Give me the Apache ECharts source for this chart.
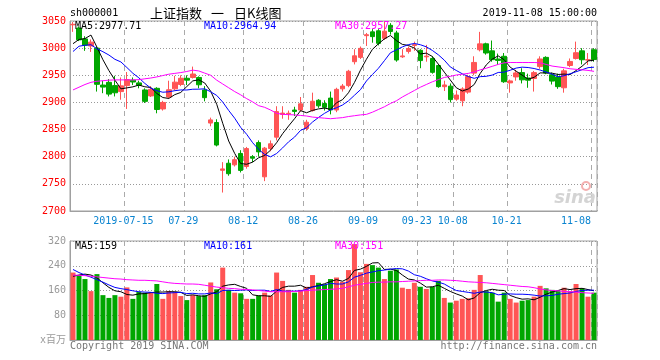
<!DOCTYPE html>
<html><head><meta charset="utf-8">
<script src="https://cdn.jsdelivr.net/npm/echarts@6/dist/echarts.min.js"></script>
<style>html,body{margin:0;padding:0;background:#fff}#c{width:660px;height:360px}</style>
</head><body><div id="c"></div>
<script>
const dates = [
'2019-07-02','2019-07-03','2019-07-04','2019-07-05','2019-07-08','2019-07-09','2019-07-10','2019-07-11','2019-07-12','2019-07-15',
'2019-07-16','2019-07-17','2019-07-18','2019-07-19','2019-07-22','2019-07-23','2019-07-24','2019-07-25','2019-07-26','2019-07-29',
'2019-07-30','2019-07-31','2019-08-01','2019-08-02','2019-08-05','2019-08-06','2019-08-07','2019-08-08','2019-08-09','2019-08-12',
'2019-08-13','2019-08-14','2019-08-15','2019-08-16','2019-08-19','2019-08-20','2019-08-21','2019-08-22','2019-08-23','2019-08-26',
'2019-08-27','2019-08-28','2019-08-29','2019-08-30','2019-09-02','2019-09-03','2019-09-04','2019-09-05','2019-09-06','2019-09-09',
'2019-09-10','2019-09-11','2019-09-12','2019-09-16','2019-09-17','2019-09-18','2019-09-19','2019-09-20','2019-09-23','2019-09-24',
'2019-09-25','2019-09-26','2019-09-27','2019-09-30','2019-10-08','2019-10-09','2019-10-10','2019-10-11','2019-10-14','2019-10-15',
'2019-10-16','2019-10-17','2019-10-18','2019-10-21','2019-10-22','2019-10-23','2019-10-24','2019-10-25','2019-10-28','2019-10-29',
'2019-10-30','2019-10-31','2019-11-01','2019-11-04','2019-11-05','2019-11-06','2019-11-07','2019-11-08'];

const opens = [3043,3037,3017,3004,3000,2932,2937,2931,2920,2931,
2941,2936,2923,2912,2926,2888,2910,2925,2933,2944.5,
2946,2946,2923,2862,2863,2775,2788,2785,2806,2782,
2800,2826,2763,2815,2836,2878,2879,2886,2886,2852,
2885,2904,2898,2908,2886,2925,2931,2975,2983,3023,
3030,3032,3018,3042,3028,2984,2994,3005,2996,2984,
2981,2968,2929,2930,2906,2903,2919,2954,2997,3008,
2995,2980,2985,2936,2947,2955,2945,2944,2966,2983,
2951,2947,2927,2968,2981,2995,2978,2997];
const closes = [3043.94,3015.26,3005.25,3011.06,2933.36,2928.23,2915.30,2917.76,2930.55,2942.19,
2937.62,2931.69,2901.95,2924.20,2886.97,2899.94,2923.28,2937.36,2944.54,2941.01,
2952.34,2932.51,2908.77,2867.84,2821.50,2777.56,2768.68,2794.55,2774.75,2814.99,
2797.26,2808.91,2815.80,2823.82,2883.10,2880.33,2880.00,2883.44,2897.43,2863.57,
2902.19,2893.76,2890.92,2886.24,2924.11,2930.15,2957.41,2985.86,2999.60,3024.74,
3021.20,3008.81,3031.24,3030.75,2978.12,2985.66,2999.28,3006.45,2977.08,2985.34,
2955.43,2929.09,2932.17,2905.19,2913.57,2924.86,2947.71,2973.66,3007.88,2991.05,
2978.71,2977.33,2938.14,2939.62,2954.38,2941.62,2940.92,2954.93,2980.05,2954.18,
2939.32,2929.06,2958.20,2975.49,2991.56,2978.60,2978.71,2979];
const lows = [3030,3013,2995,2993,2920,2917,2911,2911,2905,2888,
2932,2926,2899,2910,2880,2885,2907,2922,2930,2932,
2944,2926,2902,2856,2819,2734,2765,2782,2771,2778,
2790,2800,2755,2810,2830,2870,2868,2875,2883,2848,
2883,2890,2885,2878,2882,2920,2928,2970,2980,3004,
3010,3005,3015,3025,2975,2982,2990,2995,2963,2975,
2953,2927,2921,2900,2903,2893,2916,2950,2994,2988,
2975,2969,2936,2918,2940,2935,2927,2920,2962,2952,
2933,2925,2918,2965,2979,2970,2969,2975];
const highs = [3048,3040,3022,3016,3002,2940,2943,2949,2946,2956,
2946,2940,2926,2930,2928,2903,2940,2949,2950,2950,
2966,2948,2930,2872,2869,2790,2795,2800,2812,2818,
2803,2830,2818,2830,2893,2893,2885,2892,2910,2868,
2918,2906,2904,2920,2927,2934,2960,2998,3003,3028,
3035,3035,3049,3046,3032,2998,3003,3012,2998,3006,
2985,2970,2940,2935,2922,2928,2951,2985,3030,3010,
3014,2990,2991,2942,2960,2963,2953,2958,2985,2985,
2955,2953,2962,2981,3012,3000,2991,3000];

const ma5 = [3008.2,3016.0,3017.6,3024.1,3001.8,2978.6,2958.6,2941.1,2925.0,2926.8,
2928.7,2932.0,2928.8,2927.5,2916.5,2909.0,2907.3,2914.4,2918.4,2929.2,
2939.7,2941.6,2935.8,2920.5,2896.6,2861.6,2828.9,2806.0,2787.4,2786.1,
2790.0,2798.1,2802.3,2812.2,2825.8,2842.4,2856.6,2870.1,2884.9,2881.0,
2885.3,2888.1,2889.6,2887.3,2899.4,2905.0,2917.8,2936.8,2959.4,2979.6,
2997.8,3008.0,3017.1,3023.3,3014.0,3006.9,3005.0,3000.1,2989.3,2990.8,
2984.7,2970.7,2955.8,2941.4,2927.1,2921.0,2924.7,2933.0,2953.5,2969.0,
2979.8,2985.7,2978.6,2965.0,2957.6,2950.2,2942.9,2946.3,2954.4,2954.3,
2953.9,2951.5,2952.2,2951.3,2958.7,2966.6,2976.5,2977.7];
const ma10 = [2993.8,3003.5,3005.4,3006.3,2998.8,2993.4,2987.3,2979.4,2974.6,2964.3,
2953.7,2945.3,2935.0,2926.3,2921.6,2918.8,2919.6,2921.6,2923.0,2922.9,
2924.3,2924.4,2925.1,2919.5,2912.9,2900.7,2885.2,2870.9,2854.0,2841.3,
2825.8,2813.5,2804.2,2799.8,2805.9,2816.2,2827.4,2836.2,2848.5,2853.4,
2863.9,2872.3,2879.9,2886.1,2890.2,2895.2,2902.9,2913.2,2923.4,2939.5,
2951.4,2962.9,2976.9,2991.4,2996.8,3002.3,3006.5,3008.6,3006.3,3002.4,
2995.8,2987.8,2977.9,2965.4,2958.9,2952.8,2947.7,2944.4,2947.5,2948.1,
2950.4,2955.2,2955.8,2959.3,2963.3,2965.0,2964.3,2962.5,2959.7,2956.0,
2952.0,2947.2,2949.2,2952.8,2956.5,2960.2,2964.0,2964.9];
const ma30 = [2923,2928,2933,2937,2939,2940,2941,2941.5,2941.5,2941.5,
2941.5,2942,2943.5,2945,2947,2949.5,2952,2953.5,2955,2957,
2959.5,2958,2954,2950,2941,2934,2927,2920,2914,2907,
2901,2894,2891,2886,2880,2878,2877.5,2877,2876,2875,
2873,2872,2871,2870,2871,2872,2874,2875.5,2877,2878,
2882,2887,2892,2898,2903,2910,2916,2922,2928,2933,
2938,2942,2946,2948,2950.5,2952,2953.5,2956,2960,2963,
2966.5,2970,2973,2973.5,2973.5,2973.5,2973.5,2973.5,2973,2970,
2967,2965.5,2964,2962,2961,2960,2959,2957.27];

const volumes = [218,210,197,158,213,145,136,145,140,170,
133,156,153,154,181,133,158,156,142,129,
145,142,145,186,164,234,162,153,151,133,
133,144,153,144,218,191,162,153,162,172,
210,185,180,197,202,188,226,310,219,246,
242,234,197,224,228,169,165,185,172,165,
172,191,136,121,127,133,135,162,210,158,
153,124,153,133,121,127,129,140,175,167,
162,158,169,158,181,167,140,153];
const volMa5 = [206,210,213,210,201,185,170,159,156,147,
145,149,150,153,155,155,156,156,154,144,
146,143,141,149,156,174,178,180,173,167,
146,143,143,141,158,170,174,174,177,168,
172,176,182,189,195,190,199,225,229,238,
249,250,228,229,225,210,197,194,184,171,
172,177,167,157,149,142,130,136,153,160,
164,161,160,144,137,132,133,130,138,148,
155,160,166,163,166,167,163,159];
const volMa10 = [228,218,210,203,195,187,178,170,166,163,
159,156,155,154,151,150,152,153,154,150,
151,149,149,152,150,160,161,160,161,162,
160,161,161,157,163,158,158,158,159,163,
171,175,178,183,181,181,188,203,209,216,
220,224,226,229,231,230,223,211,206,198,
191,187,181,170,160,157,154,151,155,155,
153,146,148,149,148,148,147,145,142,143,
144,148,150,152,157,160,161,161];
const volMa30 = [210,209,208,206,204,202,200,198,197,195,
194,193,193,192,191,188,185,183,182,181,
181,180,177,174,171,169,167,166,164,163,
162,160,158,156,156,156,156,157,158,160,
161,162,163,164,165,167,172,177,180,183,
186,187,187,188,188,189,190,191,192,193,
193,194,194,193,192,190,188,187,186,185,
183,181,179,177,175,173,172,169,165,162,
160,159,157,156,155,153,152,151];

const tickDates = ['2019-07-15','2019-07-29','2019-08-12','2019-08-26','2019-09-09','2019-09-23','2019-10-08','2019-10-21','2019-11-08'];
const tickLabels = ['2019-07-15','07-29','08-12','08-26','09-09','09-23','10-08','10-21','11-08'];
const priceAxis = {min: 2700, max: 3050, step: 50};
const volAxis = {min: 0, max: 320, step: 80};

const RED = '#ff5555', GREEN = '#00a600';
const MONO = "'DejaVu Sans Mono', monospace";
const candleData = dates.map((d, i) => [opens[i], closes[i], lows[i], highs[i]]);
const volData = volumes.map((v, i) => ({value: v, itemStyle: {color: closes[i] >= opens[i] ? RED : GREEN}}));
const isTick = (idx, val) => tickDates.indexOf(val) >= 0;

function txt(text, x, y, color, opts) {
  opts = opts || {};
  return {type: 'text', x: x, y: y, z: 100, silent: true,
    style: {text: text, fill: color, font: opts.font || ('10px ' + MONO),
      align: opts.align || 'left', verticalAlign: 'middle',
      textAlign: opts.align || 'left', textVerticalAlign: 'middle'}};
}

const chart = echarts.init(document.getElementById('c'), null, {renderer: 'canvas'});
const lineS = (name, data, color, xi) => ({type: 'line', name: name, data: data, xAxisIndex: xi, yAxisIndex: xi,
  symbol: 'none', smooth: false, silent: true, lineStyle: {color: color, width: 1}, z: 5});
const CJK = "13px 'Noto Sans CJK SC'";

chart.setOption({
  animation: false,
  backgroundColor: '#fff',
  grid: [
    {left: 70, top: 21, width: 527, height: 190, show: true, borderColor: '#a0a0a0', borderWidth: 1, backgroundColor: 'transparent'},
    {left: 70, top: 241, width: 527, height: 99, show: true, borderColor: '#a0a0a0', borderWidth: 1, backgroundColor: 'transparent'}
  ],
  xAxis: [
    {type: 'category', gridIndex: 0, data: dates, boundaryGap: true,
      axisLine: {show: true, lineStyle: {color: '#a0a0a0'}}, axisTick: {show: false},
      axisLabel: {interval: isTick, margin: 5,
        formatter: (val) => { const k = tickDates.indexOf(val); return (k === tickDates.length - 1 ? '{b|' : '{a|') + tickLabels[k] + '}'; },
        rich: {a: {fontFamily: MONO, fontSize: 10, color: '#0a84d0', padding: [0, 7, 0, 0]},
               b: {fontFamily: MONO, fontSize: 10, color: '#0a84d0', padding: [0, 36, 0, 0]}}},
      splitLine: {show: true, interval: isTick, lineStyle: {color: '#aaaaaa', type: [5, 4], width: 1}}},
    {type: 'category', gridIndex: 1, data: dates, boundaryGap: true,
      axisLine: {show: true, lineStyle: {color: '#a0a0a0'}}, axisTick: {show: false}, axisLabel: {show: false},
      splitLine: {show: true, interval: isTick, lineStyle: {color: '#aaaaaa', type: [5, 4], width: 1}}}
  ],
  yAxis: [
    {type: 'value', gridIndex: 0, min: priceAxis.min, max: priceAxis.max, interval: priceAxis.step,
      axisLine: {show: true, lineStyle: {color: '#a0a0a0'}}, axisTick: {show: false},
      axisLabel: {color: '#ff0000', fontFamily: MONO, fontSize: 10, margin: 4, formatter: (v) => String(v)},
      splitLine: {show: true, lineStyle: {color: '#999999', type: [1, 2], width: 1}}},
    {type: 'value', gridIndex: 1, min: volAxis.min, max: volAxis.max, interval: volAxis.step,
      axisLine: {show: true, lineStyle: {color: '#a0a0a0'}}, axisTick: {show: false},
      axisLabel: {color: '#999999', fontFamily: "'DejaVu Sans Mono','Noto Sans CJK SC', monospace", fontSize: 10, margin: 4,
        formatter: (v) => v === 0 ? 'x百万' : String(v)},
      splitLine: {show: true, lineStyle: {color: '#999999', type: [1, 2], width: 1}}}
  ],
  series: [
    {type: 'candlestick', name: 'K', data: candleData, xAxisIndex: 0, yAxisIndex: 0, barWidth: 5, silent: true,
      itemStyle: {color: RED, color0: GREEN, borderColor: RED, borderColor0: GREEN, borderWidth: 1}},
    lineS('MA5', ma5, '#000000', 0),
    lineS('MA10', ma10, '#0000ff', 0),
    lineS('MA30', ma30, '#ff00ff', 0),
    {type: 'bar', name: 'VOL', data: volData, xAxisIndex: 1, yAxisIndex: 1, barWidth: 5, silent: true},
    lineS('VMA5', volMa5, '#000000', 1),
    lineS('VMA10', volMa10, '#0000ff', 1),
    lineS('VMA30', volMa30, '#ff00ff', 1)
  ],
  graphic: [
    txt('sh000001', 70, 13, '#000000'),
    txt('上证指数', 150, 13, '#000000', {font: CJK}),
    txt('一', 211, 13, '#000000', {font: CJK}),
    txt('日K线图', 234, 13, '#000000', {font: CJK}),
    txt('2019-11-08 15:00:00', 597, 13, '#000000', {align: 'right'}),
    txt('MA5:2977.71', 75, 26, '#000000'),
    txt('MA10:2964.94', 204, 26, '#0000ff'),
    txt('MA30:2957.27', 335, 26, '#ff00ff'),
    txt('MA5:159', 75, 246, '#000000'),
    txt('MA10:161', 204, 246, '#0000ff'),
    txt('MA30:151', 335, 246, '#ff00ff'),
    txt('Copyright 2019 SINA.COM', 70, 346, '#777777'),
    txt('http://finance.sina.com.cn', 597, 346, '#777777', {align: 'right'}),
    txt('sina', 596, 198, '#d4d4d4', {align: 'right', font: "italic bold 18px 'DejaVu Sans'"}),
    {type: 'circle', shape: {cx: 586, cy: 186, r: 4}, z: 100, silent: true, style: {fill: 'none', stroke: '#f4b0b0', lineWidth: 2}}
  ]
});
</script></body></html>
